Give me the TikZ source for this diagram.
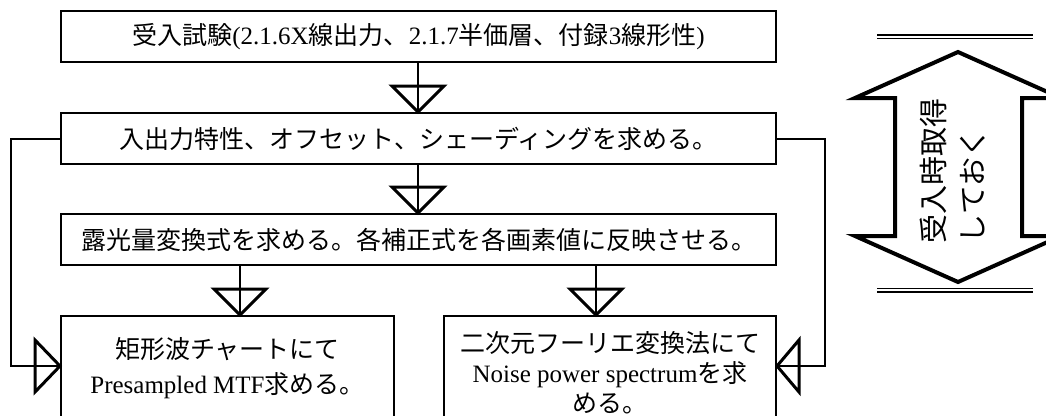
\documentclass[tikz,border=0pt]{standalone}
\usepackage{fontspec}
\setmainfont{Liberation Serif}
\newfontfamily\cjk{Noto Sans CJK JP}
\usetikzlibrary{calc}
\newcommand\downtri[1]{\draw[tri] (#1) ++(-26,-26) -- ++(26,26) -- ++(26,-26) -- cycle;}
\begin{document}
\begin{tikzpicture}[x=1pt,y=-1pt,
  box/.style={draw, line width=2pt, inner sep=0pt, align=center,
    font=\fontsize{25}{30}\selectfont},
  link/.style={line width=2pt},
  tri/.style={line width=3pt, line join=miter},
  bigarrow/.style={line width=4pt, line join=miter},
  rulepair/.style={double, double distance=2pt, line width=1.5pt}]
\useasboundingbox (0,0) rectangle (1046,415);
\clip (0,0) rectangle (1046,415);
% boxes
\node[box, minimum width=715pt, minimum height=51pt] (b1) at (418.5,36.5)
  {{\cjk 受入試験}(2.1.6X{\cjk 線出力、}2.1.7{\cjk 半価層、付録}3{\cjk 線形性})};
\node[box, minimum width=715pt, minimum height=51pt] (b2) at (418.5,138.5)
  {\cjk 入出力特性、オフセット、シェーディングを求める。};
\node[box, minimum width=715pt, minimum height=51pt] (b3) at (418.5,239.5)
  {\cjk 露光量変換式を求める。各補正式を各画素値に反映させる。};
\node[box, minimum width=333pt, minimum height=104pt] (b4) at (227.5,368)
  {{\cjk 矩形波チャートにて}\\[5pt]Presampled MTF{\cjk 求める。}};
\node[box, minimum width=332pt, minimum height=114pt] (b5) at (610,373)
  {{\cjk 二次元フーリエ変換法にて}\\Noise power spectrum{\cjk を求}\\{\cjk める。}};
% connector x positions
\coordinate (a1) at (418,0);
\coordinate (a4) at (240,0);
\coordinate (a5) at (596,0);
\coordinate (L) at (11,0);
\coordinate (R) at (825,0);
\coordinate (fy) at (0,366);
\draw[link] (b1.south -| a1) -- (b2.north -| a1);
\downtri{b2.north -| a1}
\draw[link] (b2.south -| a1) -- (b3.north -| a1);
\downtri{b3.north -| a1}
\draw[link] (b3.south -| a4) -- (b4.north -| a4);
\downtri{b4.north -| a4}
\draw[link] (b3.south -| a5) -- (b5.north -| a5);
\downtri{b5.north -| a5}
% feedback lines
\draw[link] (b2.west) -- (b2.west -| L) -- (L |- fy) -- (b4.west |- fy);
\draw[tri] (b4.west |- fy) ++(-25,-26) -- ++(25,26) -- ++(-25,26) -- cycle;
\draw[link] (b2.east) -- (b2.east -| R) -- (R |- fy) -- (b5.east |- fy);
\draw[tri] (b5.east |- fy) ++(22,-26) -- ++(-22,26) -- ++(22,26) -- cycle;
% double-headed block arrow
\draw[bigarrow] (958,52) -- (855,98) -- (895,98) -- (895,236) -- (855,236)
  -- (958,282) -- (1061,236) -- (1022,236) -- (1022,98) -- (1061,98) -- cycle;
\node[rotate=90, align=left, inner sep=0pt, font=\cjk\fontsize{29}{39}\selectfont]
  (note) at (952.5,170.5) {受入時取得\\しておく};
\draw[rulepair] (877,36.8) -- (1033,36.8);
\draw[rulepair] (877,290) -- (1033,290);
\end{tikzpicture}
\end{document}
